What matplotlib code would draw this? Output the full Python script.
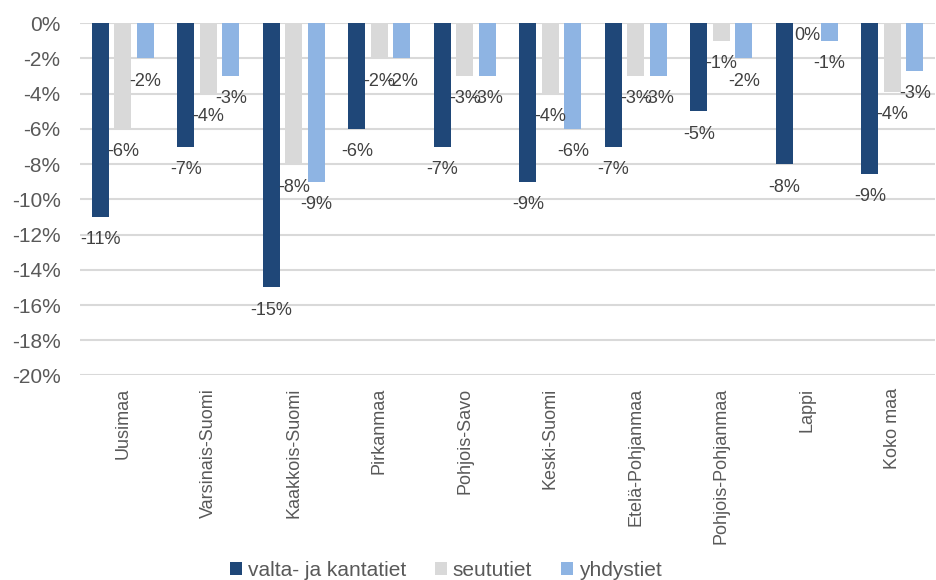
import numpy as np
import matplotlib.pyplot as plt
from matplotlib.ticker import FuncFormatter

plt.rcParams['font.family'] = ['Liberation Sans', 'DejaVu Sans']

regions = ["Uusimaa", "Varsinais-Suomi", "Kaakkois-Suomi", "Pirkanmaa",
           "Pohjois-Savo", "Keski-Suomi", "Etelä-Pohjanmaa",
           "Pohjois-Pohjanmaa", "Lappi", "Koko maa"]
series_names = ["valta- ja kantatiet", "seututiet", "yhdystiet"]

# change in %, per road class
valta = [-11, -7, -15, -6, -7, -9, -7, -5, -8, -8.55]
seutu = [-6, -4, -8, -2, -3, -4, -3, -1, 0, -3.9]
yhdys = [-2, -3, -9, -2, -3, -6, -3, -2, -1, -2.7]

colors = ["#1F4778", "#D9D9D9", "#8EB4E3"]
text_col = "#595959"

fig = plt.figure(figsize=(9.37, 5.8), dpi=100)
ax = fig.add_axes([0.0854, 0.3526, 0.9126, 0.6074])

x = np.arange(len(regions))
width = 0.2
step = 0.263

for i, (vals, name, c) in enumerate(zip([valta, seutu, yhdys], series_names, colors)):
    pos = x + (i - 1) * step
    ax.bar(pos, vals, width, color=c, label=name, zorder=2)
    for px, v in zip(pos, vals):
        # zero values get pushed just inside the top of the plot
        off = -16.5 if v < 0 else -9
        ax.annotate(f"{v:.0f}%", (px, v), xytext=(0, off), textcoords="offset points",
                    ha="center", va="center", fontsize=13, color="#404040", zorder=3)

ax.set_ylim(-20, 0)
ax.set_xlim(-0.5, len(regions) - 0.5)
ax.set_yticks(np.arange(-20, 1, 2))
ax.yaxis.set_major_formatter(FuncFormatter(lambda v, p: f"{v:.0f}%"))
ax.grid(axis="y", color="#D9D9D9", linewidth=1.5, zorder=0)
ax.set_axisbelow(True)
for s in ax.spines.values():
    s.set_visible(False)

ax.set_xticks(x)
ax.set_xticklabels(regions, rotation=90, va="top", ha="center")
ax.tick_params(axis="x", length=0, pad=9, labelsize=13, labelcolor=text_col)
ax.tick_params(axis="y", length=0, pad=14, labelsize=15, labelcolor=text_col)

leg = fig.legend(loc="center", bbox_to_anchor=(0.476, 0.017), ncol=3, frameon=False,
                 fontsize=15, handlelength=0.55, handleheight=0.55,
                 handletextpad=0.3, columnspacing=1.4, borderaxespad=0)
for t in leg.get_texts():
    t.set_color(text_col)

fig.savefig("out.png", dpi=100)
